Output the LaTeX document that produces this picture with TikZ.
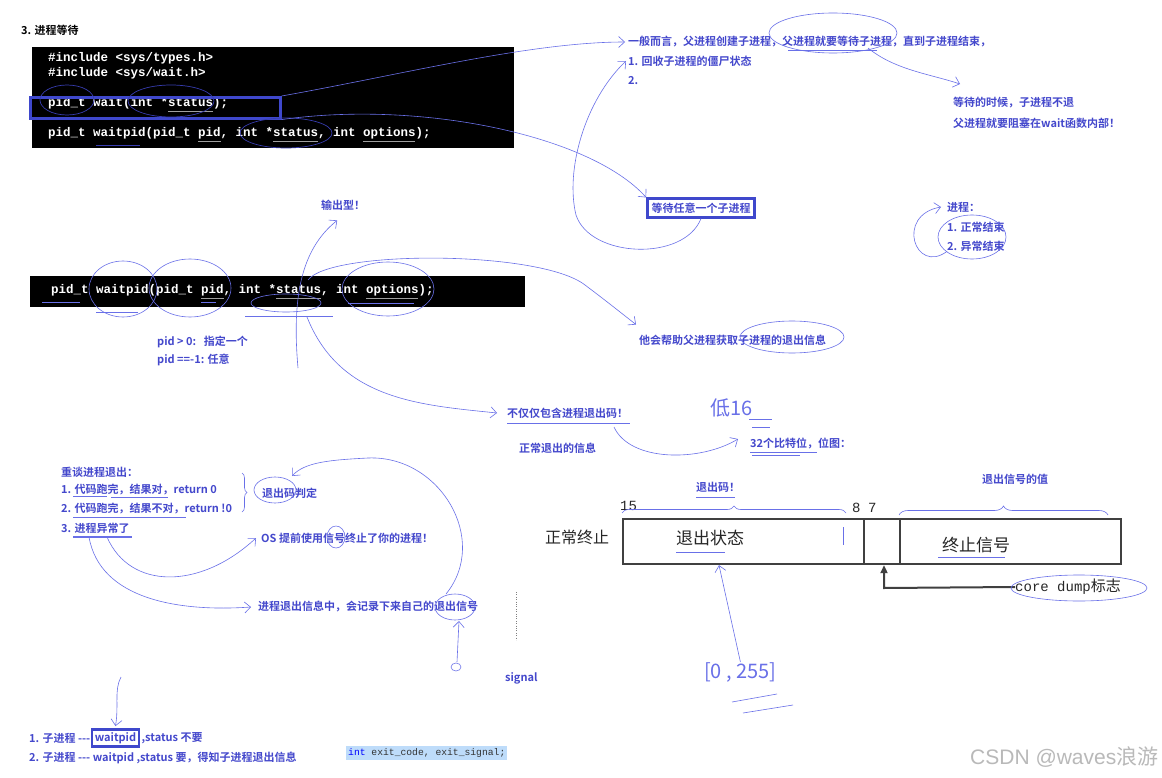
\documentclass[tikz,border=0pt]{standalone}
\usepackage{fontspec}
\setmainfont{Noto Sans CJK SC}[BoldFont={Noto Sans CJK SC Bold}]
\setmonofont{Liberation Mono}
\newfontfamily\wmfont{Liberation Sans}
\usetikzlibrary{arrows.meta, positioning, decorations.pathreplacing, calc}
\definecolor{annot}{RGB}{68, 72, 204}
\definecolor{pen}{RGB}{105, 112, 232}
\definecolor{darkpen}{RGB}{55, 60, 175}
\definecolor{frameblue}{RGB}{63, 72, 204}
\definecolor{hilite}{RGB}{190, 220, 250}

\begin{document}
\begin{tikzpicture}[x=1pt, y=-1pt,
  note/.style={anchor=west, inner sep=0pt, text=annot, font=\fontsize{11}{13}\selectfont\bfseries},
  code/.style={anchor=west, inner sep=0pt, text=white, font=\fontsize{12.5}{14}\selectfont\ttfamily\bfseries},
  codebar/.style={fill=black, draw=none, anchor=north west, inner sep=0pt},
  pen/.style={draw=pen, line width=0.6pt},
  darkring/.style={draw=darkpen, line width=0.7pt},
  hand/.style={pen, -{Straight Barb[length=6pt, width=11pt]}},
  boxed/.style={draw=frameblue, line width=2.6pt},
  plain/.style={anchor=west, inner sep=0pt, text=black!85, font=\fontsize{17}{19}\selectfont},
  digits/.style={anchor=west, inner sep=0pt, text=black!85, font=\fontsize{14}{16}\selectfont\ttfamily},
  scrawl/.style={anchor=west, inner sep=0pt, text=pen, font=\fontsize{20}{22}\selectfont},
  cell/.style={draw=black!75, line width=2.2pt, anchor=north west, inner sep=0pt, minimum height=45pt}
]
\fill[white] (0,0) rectangle (1162,778);
\useasboundingbox (0,0) rectangle (1162,778);

% header and first code block
\node[anchor=west, inner sep=0pt, font=\fontsize{11}{13}\selectfont\bfseries] (title) at (21,30) {3. 进程等待};
\node[codebar, minimum width=482pt, minimum height=101pt] (codeA) at (32,47) {};
\node[code] (incA) at (48,58) {\#include <sys/types.h>};
\node[code] (incB) at (48,73) {\#include <sys/wait.h>};
\node[code] (waitfn) at (48,103) {pid\_t wait(int *status);};
\node[code] (waitpidA) at (48,133) {pid\_t waitpid(pid\_t pid, int *status, int options);};
\node[boxed, anchor=north west, minimum width=250pt, minimum height=21pt, inner sep=0pt] (waitbox) at (29,96) {};
\foreach \a/\b/\y in {168/213/112, 198/221/142, 273/318/142, 363/415/142}
  \draw[gray!75, line width=1pt] (\a,\y) -- (\b,\y);
\draw[darkring] (67,100) ellipse [x radius=27, y radius=15];
\draw[darkring] (171,101) ellipse [x radius=43, y radius=16];
\draw[darkring] (286,133) ellipse [x radius=46, y radius=15];
\draw[darkring] (96,145) -- (140,145);

% notes on the right
\node[note] (gen1) at (628,42) {一般而言，父进程创建子进程，父进程就要等待子进程，直到子进程结束，};
\node[note] (gen2) at (628,61) {1. 回收子进程的僵尸状态};
\node[note] (gen3) at (628,81) {2.};
\node[note] (block1) at (953,103) {等待的时候，子进程不退};
\node[note] (block2) at (953,123) {父进程就要阻塞在wait函数内部！};
\node[note, boxed, anchor=center, inner sep=4pt] (anyw) at (701,208) {等待任意一个子进程};
\draw[pen] (833,33) ellipse [x radius=64, y radius=20];
\draw[pen] (788,50) -- (877,50);
\coordinate (loopA) at (868,48);
\coordinate (tipA) at (960,84);
\draw[hand] (loopA) .. controls (895,70) and (930,74) .. (tipA);
\draw[hand] (waitbox.north east) .. controls (400,75) and (530,42) .. ([xshift=-3pt]gen1.west);
\draw[hand] (waitbox.south east) .. controls (420,100) and (590,135) .. (anyw.north west);
\draw[hand] (anyw.south) .. controls (684,262) and (590,258) .. (576,215) .. controls (565,170) and (585,100) .. ([xshift=-2pt]gen2.west);

% second code block
\node[codebar, minimum width=495pt, minimum height=31pt] (codeB) at (30,276) {};
\node[code] (waitpidB) at (51,290) {pid\_t waitpid(pid\_t pid, int *status, int options);};
\foreach \a/\b/\y in {201/224/298, 276/321/298, 366/418/298}
  \draw[gray!75, line width=1pt] (\a,\y) -- (\b,\y);
\draw[pen] (123,289) ellipse [x radius=34, y radius=28];
\draw[pen] (190,288) ellipse [x radius=41, y radius=29];
\draw[pen] (286,303) ellipse [x radius=35, y radius=9];
\draw[pen] (388,289) ellipse [x radius=46, y radius=27];
\foreach \a/\b/\y in {42/80/302, 96/138/312, 201/216/302, 245/333/316, 348/414/303}
  \draw[pen] (\a,\y) -- (\b,\y);
\node[note] (outp) at (321,205) {输出型！};
\node[note] (pidpos) at (157,342) {pid > 0:\ \ \ 指定一个};
\node[note] (pidany) at (157,360) {pid ==-1: 任意};
\node[note] (help) at (639,340) {他会帮助父进程获取子进程的退出信息};
\draw[pen] (792,337) ellipse [x radius=52, y radius=16];
\coordinate (statusB) at (298,368);
\draw[hand] (statusB) .. controls (292,300) and (300,250) .. ([xshift=-6pt,yshift=-10pt]outp.south);
\coordinate (optB) at (308,280);
\draw[hand] (optB) .. controls (330,250) and (540,250) .. (585,285) .. controls (605,300) and (620,312) .. ([xshift=-3pt,yshift=10pt]help.north west);

% process states
\node[note] (proc) at (947,207) {进程：};
\node[note] (normal) at (947,227) {1. 正常结束};
\node[note] (abnormal) at (947,246) {2. 异常结束};
\draw[pen] (972,237) ellipse [x radius=34, y radius=22];
\draw[hand] (abnormal.south west) .. controls (915,275) and (895,215) .. ([xshift=-6pt]proc.west);

% exit info
\coordinate (statusC) at (307,317);
\node[note] (more) at (507,413) {不仅仅包含进程退出码！};
\node[note] (normalinfo) at (519,448) {正常退出的信息};
\node[scrawl] (low16) at (710,408) {低16};
\node[note] (bits) at (750,444) {32个比特位，位图：};
\draw[hand] (statusC) .. controls (340,400) and (420,405) .. ([xshift=-10pt]more.west);
\draw[pen, line width=1pt] (507,423) -- (630,423);
\draw[hand] (614,427) .. controls (630,462) and (700,462) .. ([xshift=-12pt,yshift=5pt]bits.west);
\draw[pen] (749,419) -- (772,419) (752,427) -- (770,427);
\draw[pen] (750,452) -- (817,452) (752,455) -- (800,455);

% bit layout
\node[plain, font=\fontsize{16}{18}\selectfont] (normterm) at (545,537) {正常终止};
\node[cell, minimum width=241pt] (state) at (622,518) {};
\node[cell, minimum width=36pt] (flag) at (863,518) {};
\node[cell, minimum width=221pt] (termsig) at (899,518) {};
\node[plain] (statetxt) at (676,538) {退出状态};
\node[plain] (sigtxt) at (942,545) {终止信号};
\node[digits] (b15) at (620,506) {15};
\node[digits] (b8) at (852,508) {8};
\node[digits] (b7) at (868,508) {7};
\node[digits] (core) at (1015,587) {core dump\fontsize{15}{17}\selectfont\rmfamily 标志};
\draw[black!75, line width=2pt, -{Triangle[length=8pt, width=7pt]}] (core.west) -- (884,588) -- (flag.south -| 884,0);
\draw[pen] (1079,588) ellipse [x radius=68, y radius=13];
\draw[pen] (843,527) -- (843,545);
\draw[pen] (676,552) -- (725,552) (938,557) -- (1005,557);
\draw[pen, decorate, decoration={brace, amplitude=7pt}] (622,513) -- (846,513);
\draw[pen, decorate, decoration={brace, amplitude=9pt}] (899,515) -- (1108,515);
\node[note] (exitcode) at (696,487) {退出码！};
\draw[pen] (696,497) -- (735,497);
\node[note] (sigval) at (982,479) {退出信号的值};
\node[scrawl] (range) at (704,672) {[0 , 255]};
\draw[hand] (range.north) -- (state.south -| 719,0);
\draw[pen] (732,702) -- (777,694) (743,713) -- (793,705);

% revisiting process exit
\node[note] (revisit) at (61,472) {重谈进程退出：};
\node[note] (exit1) at (61,490) {1. 代码跑完，结果对，return 0};
\node[note] (exit2) at (61,509) {2. 代码跑完，结果不对，return !0};
\node[note] (exit3) at (61,528) {3. 进程异常了};
\draw[pen] (73,496) -- (107,496) (111,497) -- (168,497) (73,517) -- (186,517);
\draw[pen, line width=1.4pt] (73,537) -- (132,537);
\draw[pen, decorate, decoration={brace, amplitude=5pt}] (242,473) -- (242,512);
\node[note] (judge) at (262,493) {退出码判定};
\draw[pen] (275,490) ellipse [x radius=21, y radius=13];
\node[note] (osk) at (261,538) {OS 提前使用信号终止了你的进程！};
\draw[pen] (336,537) ellipse [x radius=9, y radius=11];
\node[note] (record) at (258,607) {进程退出信息中，会记录下来自己的退出信号};
\draw[pen] (455,607) ellipse [x radius=20, y radius=13];
\draw[hand] ([xshift=46pt,yshift=-9pt]exit3.west) .. controls (130,590) and (200,590) .. ([xshift=-5pt]osk.west);
\draw[hand] ([xshift=28pt,yshift=-9pt]exit3.west) .. controls (100,600) and (180,612) .. ([xshift=-7pt]record.west);
\coordinate (sigmark) at (446,594);
\draw[hand] (sigmark) .. controls (490,540) and (440,455) .. (368,458) .. controls (330,460) and (305,462) .. ([xshift=30pt,yshift=17pt]judge.west);
\draw[pen] (456,667) ellipse [x radius=5, y radius=4];
\coordinate (zero) at (457,662);
\draw[hand] (zero) -- (459,621);
\draw[gray, dotted] (516,592) -- (516,640);
\node[note] (signal) at (505,678) {signal};

% bottom lines
\node[note] (child1) at (29,738) {1. 子进程 -{}-{}-};
\node[note, boxed, right=0pt of child1, inner sep=3pt] (wpbox) {waitpid};
\node[note, right=1pt of wpbox] (child1b) {,status 不要};
\node[note] (child2) at (29,758) {2. 子进程 -{}-{}- waitpid ,status 要，得知子进程退出信息};
\coordinate (dropA) at (121,677);
\draw[hand] (dropA) .. controls (114,690) and (119,705) .. ([yshift=2pt]wpbox.north);
\node[anchor=west, fill=hilite, inner sep=2pt, font=\fontsize{9.7}{11}\selectfont\ttfamily, text=black!80] (exitvar) at (346,753) {\textcolor{blue}{int} exit\_code, exit\_signal;};
\node[anchor=west, inner sep=0pt, text=gray!55, font=\fontsize{21}{23}\selectfont\wmfont] (wm) at (970,757) {CSDN @waves\rmfamily 浪游};
\end{tikzpicture}
\end{document}
